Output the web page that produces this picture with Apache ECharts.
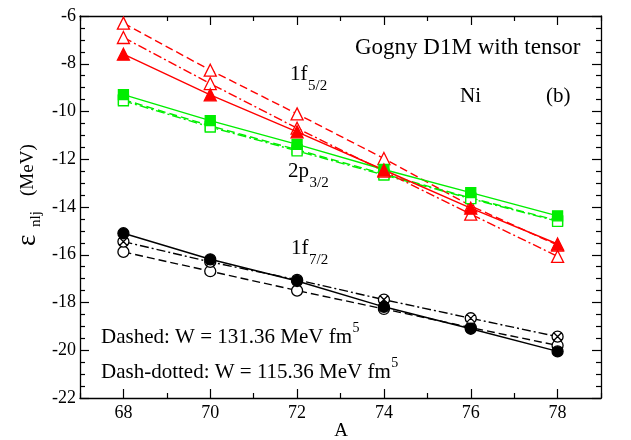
<!DOCTYPE html>
<html>
<head>
<meta charset="utf-8">
<script src="https://cdn.jsdelivr.net/npm/echarts@6/dist/echarts.min.js"></script>
<style>
html,body{margin:0;padding:0;background:#fff;}
#c{width:631px;height:440px;}
</style>
</head>
<body>
<div id="c"></div>
<script>
// ---- data ----
const massA = [68, 70, 72, 74, 76, 78];
const xMajorTicks = [68, 70, 72, 74, 76, 78];
const xMinorTicks = [67, 69, 71, 73, 75, 77, 79];

// 1f5/2 (red)
const f52Solid    = [-7.60, -9.30, -10.85, -12.45, -14.05, -15.55];
const f52Dashed   = [-6.30, -8.27, -10.10, -11.97, -13.95, -15.60];
const f52DashDot  = [-6.90, -8.83, -10.70, -12.50, -14.30, -16.07];
// 2p3/2 (green)
const p32Solid    = [-9.29, -10.38, -11.38, -12.43, -13.40, -14.37];
const p32Dashed   = [-9.50, -10.60, -11.60, -12.62, -13.62, -14.57];
const p32DashDot  = [-9.55, -10.65, -11.65, -12.66, -13.65, -14.60];
// 1f7/2 (black)
const f72Solid    = [-15.10, -16.19, -17.10, -18.18, -19.10, -20.05];
const f72Dashed   = [-15.88, -16.69, -17.50, -18.27, -19.05, -19.80];
const f72DashDot  = [-15.45, -16.30, -17.05, -17.88, -18.66, -19.43];

const RED = '#ff0000', GREEN = '#00ee00', BLACK = '#000000';
const SERIF = 'Liberation Serif';
const DASH = [8, 4];
const DASHDOT = [9, 3, 2, 3];
const CROSS_CIRCLE = 'path://M0,50 A50,50 0 1,1 100,50 A50,50 0 1,1 0,50 Z M15,15 L85,85 M85,15 L15,85';

function pts(vals) { return massA.map((a, i) => [a, vals[i]]); }

function mk(vals, color, type, symbol, filled, size, z) {
  return {
    type: 'line',
    data: pts(vals),
    xAxisIndex: 0, yAxisIndex: 0,
    symbol: symbol,
    symbolSize: size,
    showAllSymbol: true,
    z: z,
    lineStyle: { color: color, width: 1.4, type: type },
    itemStyle: { color: filled ? color : '#ffffff', borderColor: color, borderWidth: 1.3, opacity: 1 },
    emphasis: { disabled: true },
    silent: true
  };
}

const series = [
  mk(f72Dashed, BLACK, DASH, 'circle', false, 11, 2),
  mk(f72DashDot, BLACK, DASHDOT, CROSS_CIRCLE, false, 11, 3),
  mk(f72Solid, BLACK, 'solid', 'circle', true, 11, 4),
  mk(p32Dashed, GREEN, DASH, 'rect', false, 10, 2),
  mk(p32DashDot, GREEN, DASHDOT, 'rect', false, 10, 3),
  mk(p32Solid, GREEN, 'solid', 'rect', true, 10, 4),
  mk(f52Dashed, RED, DASH, 'triangle', false, 12, 2),
  mk(f52DashDot, RED, DASHDOT, 'triangle', false, 12, 3),
  mk(f52Solid, RED, 'solid', 'triangle', true, 12, 4)
];

function xAx(pos, ticks, len, showLine, showLabel) {
  return {
    type: 'value', min: 67, max: 79, interval: 1, position: pos,
    axisLine: { show: showLine, onZero: false, lineStyle: { color: '#000', width: 1.3 } },
    axisTick: { show: true, inside: true, length: len, customValues: ticks, lineStyle: { color: '#000', width: 1.2 } },
    axisLabel: { show: showLabel, customValues: ticks, fontFamily: SERIF, fontSize: 18, color: '#000', margin: 6 },
    splitLine: { show: false }
  };
}
function yAx(pos, showLabel) {
  return {
    type: 'value', min: -22, max: -6, interval: 2, position: pos,
    axisLine: { show: true, onZero: false, lineStyle: { color: '#000', width: 1.3 } },
    axisTick: { show: true, inside: true, length: 9, lineStyle: { color: '#000', width: 1.2 } },
    minorTick: { show: true, splitNumber: 4, length: 5, lineStyle: { color: '#000', width: 1.2 } },
    axisLabel: { show: showLabel, fontFamily: SERIF, fontSize: 18, color: '#000', margin: 4 },
    splitLine: { show: false }
  };
}

const mctx = document.createElement('canvas').getContext('2d');
function fontOf(size) { return size + 'px "' + SERIF + '"'; }
function tw(text, size) { mctx.font = fontOf(size); return mctx.measureText(text).width; }

function txt(x, y, text, size, align) {
  return { type: 'text', x: x, y: y, silent: true,
    style: { text: text, font: fontOf(size), fill: '#000',
             align: align || 'left', verticalAlign: 'middle',
             textAlign: align || 'left', textVerticalAlign: 'middle' } };
}
// main text followed by a sub/superscript; dy is the script's vertical offset
function scripted(x, y, main, size, script, ssize, dy) {
  return [txt(x, y, main, size), txt(x + tw(main, size) + 0.5, y + dy, script, ssize)];
}

const option = {
  animation: false,
  backgroundColor: '#fff',
  grid: { left: 80, right: 30, top: 16, bottom: 42, containLabel: false },
  xAxis: [
    xAx('bottom', xMajorTicks, 9, true, true),
    xAx('bottom', xMinorTicks, 5, false, false),
    xAx('top', xMajorTicks, 9, true, false),
    xAx('top', xMinorTicks, 5, false, false)
  ],
  yAxis: [yAx('left', true), yAx('right', false)],
  series: series,
  graphic: [
    txt(355, 48, 'Gogny D1M with tensor', 23),
    ...scripted(290, 74, '1f', 21, '5/2', 15, 12),
    txt(460, 96, 'Ni', 21),
    txt(546, 96, '(b)', 21),
    ...scripted(288, 171, '2p', 21, '3/2', 15, 12),
    ...scripted(291, 248, '1f', 21, '7/2', 15, 12),
    ...scripted(101, 337, 'Dashed: W = 131.36 MeV fm', 21, '5', 14, -9),
    ...scripted(101, 372, 'Dash-dotted: W = 115.36 MeV fm', 21, '5', 14, -9),
    txt(341, 431, 'A', 19, 'center'),
    { type: 'group', x: 28, y: 246, rotation: Math.PI / 2, silent: true,
      children: [
        txt(0, 0, 'ε', 27),
        txt(19, 8, 'nlj', 15),
        txt(50, 0, '(MeV)', 19)
      ] }
  ]
};

const chart = echarts.init(document.getElementById('c'), null, { renderer: 'canvas' });
chart.setOption(option);
</script>
</body>
</html>
